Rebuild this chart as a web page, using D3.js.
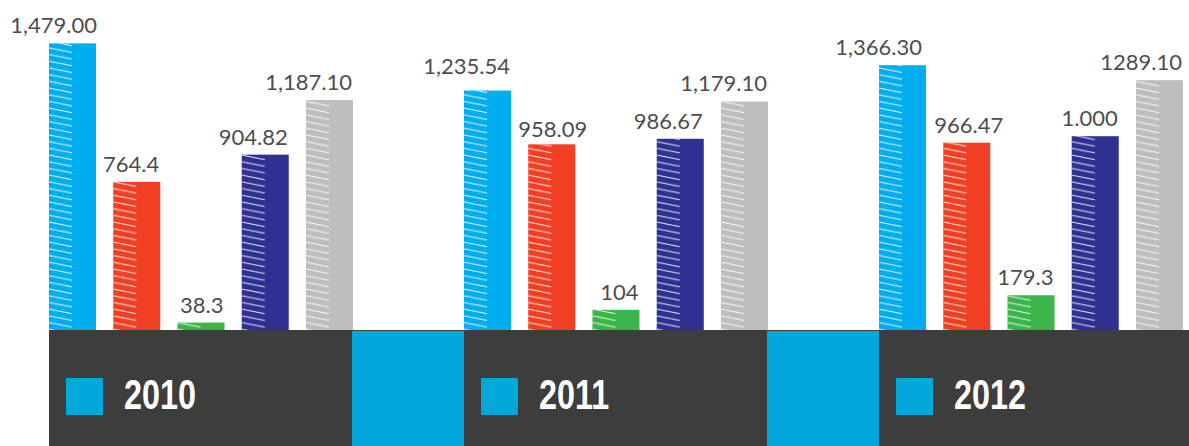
<!DOCTYPE html>
<html>
<head>
<meta charset="utf-8">
<script src="https://cdn.jsdelivr.net/npm/d3@7"></script>
<style>
	body { margin: 0; background: #fff; }
	.value { font-family: Lato, sans-serif; font-size: 22px; fill: #4d4d4d; }
	.year { font-family: 'Liberation Sans', sans-serif; font-weight: bold; font-size: 42px; fill: #fff; }
</style>
</head>
<body>
<svg></svg>
<script>
const years = ['2010', '2011', '2012'];
const series = ['a', 'b', 'c', 'd', 'e'];
const colors = ['#00aeef', '#f03f23', '#3ab54a', '#2e3192', '#bcbec0'];
const values = [
	[1479.00, 764.4, 38.3, 904.82, 1187.10],
	[1235.54, 958.09, 104, 986.67, 1179.10],
	[1366.30, 966.47, 179.3, 1000, 1289.10]
];
const labels = [
	['1,479.00', '764.4', '38.3', '904.82', '1,187.10'],
	['1,235.54', '958.09', '104', '986.67', '1,179.10'],
	['1,366.30', '966.47', '179.3', '1.000', '1289.10']
];

const width = 1189;
const height = 446;
const baseline = 330;

// a few labels sit off the usual right-aligned spot in the original
const nudge = {
	'0-0': [2, 0],
	'1-0': [0, -7],
	'1-1': [13, 3],
	'2-0': [-3, 0],
	'2-1': [14, 0]
};

const svg = d3.select('svg')
	.attr('width', width)
	.attr('height', height);

// hatch pattern: short white strokes on the left half of each bar
const defs = svg.append('defs');
const pattern = defs.append('pattern')
	.attr('id', 'hatch')
	.attr('patternUnits', 'userSpaceOnUse')
	.attr('width', 60)
	.attr('height', 6.7);
pattern.append('line')
	.attr('x1', 0).attr('y1', 1)
	.attr('x2', 23).attr('y2', 5.5)
	.attr('stroke', '#fff')
	.attr('stroke-width', 1)
	.attr('opacity', 0.9);

const x0 = d3.scaleBand()
	.domain(years)
	.range([49, 1183])
	.paddingInner(0.2675)
	.paddingOuter(0);

const x1 = d3.scaleBand()
	.domain(series)
	.range([0, x0.bandwidth()])
	.paddingInner(0.268)
	.paddingOuter(0);

const y = d3.scaleLinear()
	.domain([0, 1500])
	.range([baseline, baseline - 290.7]);

// bottom band
svg.append('rect')
	.attr('x', 49)
	.attr('y', baseline)
	.attr('width', width - 49)
	.attr('height', height - baseline)
	.attr('fill', '#3d3d3d');

// cyan strips between groups
years.slice(1).forEach(yr => {
	const prevEnd = x0(years[years.indexOf(yr) - 1]) + x0.bandwidth() - 1;
	svg.append('rect')
		.attr('x', prevEnd)
		.attr('y', baseline + 1)
		.attr('width', x0(yr) - prevEnd)
		.attr('height', height - baseline - 1)
		.attr('fill', '#00a8db');
});

const groups = svg.selectAll('.group')
	.data(years)
	.enter().append('g')
	.attr('class', 'group')
	.attr('transform', d => `translate(${x0(d)},0)`);

groups.each(function(yr, gi) {
	const g = d3.select(this);
	series.forEach((s, si) => {
		const v = values[gi][si];
		const [dx, dy] = nudge[`${gi}-${si}`] || [0, 0];
		const bar = g.append('g')
			.attr('transform', `translate(${x1(s)},0)`);
		bar.append('rect')
			.attr('x', 0)
			.attr('y', y(v))
			.attr('width', x1.bandwidth())
			.attr('height', baseline - y(v))
			.attr('fill', colors[si]);
		bar.append('rect')
			.attr('x', 0)
			.attr('y', y(v))
			.attr('width', x1.bandwidth())
			.attr('height', baseline - y(v))
			.attr('fill', 'url(#hatch)');
		bar.append('text')
			.attr('class', 'value')
			.attr('x', x1.bandwidth() - 1 + dx)
			.attr('y', y(v) - 10 + dy)
			.attr('text-anchor', 'end')
			.text(labels[gi][si]);
	});

	// legend square + year
	g.append('rect')
		.attr('x', 17)
		.attr('y', 378)
		.attr('width', 37)
		.attr('height', 37)
		.attr('fill', '#00a8db');
	g.append('text')
		.attr('class', 'year')
		.attr('transform', 'translate(75,409) scale(0.77,1)')
		.text(yr);
});
</script>
</body>
</html>
